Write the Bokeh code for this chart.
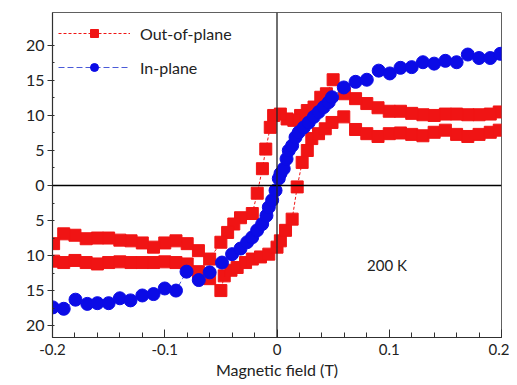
from bokeh.plotting import figure
from bokeh.models import Span, Label, Legend, LegendItem, FixedTicker, Range1d
from bokeh.embed import file_html
from bokeh.resources import INLINE

# ---- data ----
oop_down_x = [0.198, 0.19, 0.18, 0.17, 0.16, 0.15, 0.14, 0.13, 0.12, 0.11, 0.10, 0.09, 0.08, 0.07, 0.06,
              0.05, 0.044, 0.039, 0.033, 0.027, 0.021, 0.015, 0.009, 0.003, -0.003, -0.006, -0.010,
              -0.013, -0.0176, -0.022, -0.0325, -0.0385, -0.044, -0.050, -0.060, -0.070, -0.080,
              -0.090, -0.100, -0.110, -0.120, -0.130, -0.140, -0.150, -0.160, -0.170, -0.180, -0.190, -0.199]
oop_down_y = [10.5, 10.2, 10.1, 10.1, 10.2, 10.2, 10.0, 10.1, 10.3, 10.6, 10.6, 11.1, 11.7, 12.4, 13.1,
              15.1, 13.1, 12.6, 11.2, 10.7, 10.0, 9.3, 9.5, 10.2, 10.0, 8.3, 5.2,
              2.4, -1.1, -4.0, -4.6, -5.5, -6.7, -8.1, -10.5, -9.3, -8.3,
              -7.9, -8.2, -8.8, -8.2, -7.9, -7.8, -7.5, -7.5, -7.6, -7.1, -6.9, -8.3]

oop_up_x = [-0.199, -0.190, -0.180, -0.170, -0.160, -0.150, -0.140, -0.130, -0.120, -0.110, -0.100,
            -0.090, -0.080, -0.070, -0.060, -0.050, -0.047, -0.041, -0.0355, -0.028, -0.022, -0.0147,
            -0.0073, 0.000, 0.003, 0.0076, 0.0135, 0.018, 0.0224, 0.027, 0.031, 0.037, 0.043, 0.049,
            0.0595, 0.070, 0.080, 0.090, 0.100, 0.110, 0.120, 0.130, 0.140, 0.150, 0.160, 0.170, 0.180,
            0.190, 0.198]
oop_up_y = [-10.8, -11.0, -10.7, -11.0, -11.2, -11.0, -10.9, -11.0, -11.0, -11.0, -10.9,
            -11.0, -11.2, -12.3, -13.3, -15.0, -12.9, -12.1, -11.7, -11.0, -10.5, -10.2,
            -9.8, -8.8, -7.9, -6.4, -4.8, -0.2, 3.3, 5.0, 6.7, 7.4, 8.1, 9.0,
            9.8, 8.0, 7.4, 7.0, 7.4, 7.5, 7.3, 7.1, 7.6, 7.9, 7.3, 7.0, 7.3,
            7.6, 7.9]

ip_x = [-0.1997, -0.190, -0.1795, -0.169, -0.160, -0.150, -0.140, -0.1305, -0.120, -0.110, -0.100,
        -0.090, -0.0806, -0.0697, -0.060, -0.049, -0.040, -0.0325, -0.0266, -0.0221, -0.0177, -0.0132,
        -0.0094, -0.0073, -0.0043, -0.0013, 0.0016, 0.0031, 0.006, 0.0085, 0.0105, 0.0135, 0.0165,
        0.0194, 0.0239, 0.0283, 0.0328, 0.0372, 0.0417, 0.0461, 0.049, 0.0595, 0.070, 0.080, 0.0906,
        0.1005, 0.110, 0.120, 0.130, 0.140, 0.150, 0.160, 0.170, 0.180, 0.190, 0.199]
ip_y = [-17.4, -17.6, -16.3, -16.9, -16.8, -16.8, -16.1, -16.4, -15.7, -15.5, -14.7,
        -15.0, -12.3, -13.5, -12.4, -11.0, -9.8, -9.0, -8.1, -7.4, -6.4, -5.5,
        -4.3, -3.1, -2.1, -0.7, 1.0, 1.7, 2.4, 3.8, 5.0, 5.7, 6.9,
        7.6, 8.3, 9.0, 9.8, 10.5, 11.2, 11.9, 12.6, 14.0, 14.8, 15.1, 16.4,
        16.0, 16.8, 16.9, 17.6, 17.4, 17.8, 17.6, 18.7, 18.2, 18.2, 18.8]

x_ticks = [-0.2, -0.1, 0, 0.1, 0.2]
x_tick_labels = ["-0.2", "-0.1", "0", "0.1", "0.2"]
y_ticks = [-20, -15, -10, -5, 0, 5, 10, 15, 20]
y_tick_labels = ["20", "15", "10", "5", "0", "5", "10", "15", "20"]

series_names = ["Out-of-plane", "In-plane"]
x_label = "Magnetic field (T)"
annot_text = "200 K"
annot_x, annot_y = 0.098, -11.4

RED = "#f01414"
BLUE = "#0b0be6"
FONT = "Lato"

p = figure(width=509, height=383, output_backend="svg", toolbar_location=None,
           x_range=Range1d(-0.2, 0.2), y_range=Range1d(-21.7, 24.7),
           min_border_left=52, min_border_right=8, min_border_top=12, min_border_bottom=46)
p.grid.visible = False
p.outline_line_color = "#606060"
p.outline_line_width = 1
p.background_fill_color = "white"
p.border_fill_color = "white"

# axes
p.xaxis.ticker = FixedTicker(ticks=x_ticks,
                             minor_ticks=[round(-0.2 + 0.02 * i, 3) for i in range(21)])
p.xaxis.major_label_overrides = dict(zip(x_ticks, x_tick_labels))
p.yaxis.ticker = FixedTicker(ticks=y_ticks, minor_ticks=[-20 + 2.5 * i for i in range(17)])
p.yaxis.major_label_overrides = dict(zip(y_ticks, y_tick_labels))

for ax in (p.xaxis[0], p.yaxis[0]):
    ax.axis_line_color = "#303030"
    ax.axis_line_width = 1.2
    ax.major_tick_line_color = "#303030"
    ax.minor_tick_line_color = "#303030"
    ax.major_label_text_font = FONT
    ax.major_label_text_color = "#222222"
    ax.axis_label_text_font = FONT
    ax.axis_label_text_font_style = "normal"
    ax.axis_label_text_color = "#222222"

p.xaxis.major_tick_in = 8
p.xaxis.major_tick_out = 0
p.xaxis.minor_tick_in = 5
p.xaxis.minor_tick_out = 0
p.xaxis.major_label_text_font_size = "15px"
p.xaxis.major_label_standoff = 6
p.xaxis.axis_label = x_label
p.xaxis.axis_label_text_font_size = "16px"
p.xaxis.axis_label_standoff = 2

p.yaxis.major_tick_in = 0
p.yaxis.major_tick_out = 5
p.yaxis.minor_tick_in = 2
p.yaxis.minor_tick_out = 0
p.yaxis.major_label_text_font_size = "16px"
p.yaxis.major_label_standoff = 3

# zero lines
p.add_layout(Span(location=0, dimension="width", line_color="black", line_width=1.3))
p.add_layout(Span(location=0, dimension="height", line_color="#222222", line_width=1.3))

# out-of-plane
r_l1 = p.line(oop_down_x, oop_down_y, line_color=RED, line_width=1, line_dash="3 2")
r_l2 = p.line(oop_up_x, oop_up_y, line_color=RED, line_width=1, line_dash="3 2")
r_s1 = p.scatter(oop_down_x, oop_down_y, marker="square", size=12, fill_color=RED, line_color=RED)
r_s2 = p.scatter(oop_up_x, oop_up_y, marker="square", size=12, fill_color=RED, line_color=RED)

# in-plane
b_l = p.line(ip_x, ip_y, line_color="#4a5ad8", line_width=1, line_dash="6 3")
b_s = p.scatter(ip_x, ip_y, marker="circle", size=13, fill_color=BLUE, line_color=BLUE)

legend = Legend(items=[LegendItem(label=series_names[0], renderers=[r_l1, r_s1]),
                       LegendItem(label=series_names[1], renderers=[b_l, b_s])],
                location=(2, 256))
legend.glyph_width = 72
legend.glyph_height = 20
legend.label_height = 20
legend.spacing = 14
legend.label_standoff = 10
legend.label_text_font = FONT
legend.label_text_font_size = "16px"
legend.label_text_color = "#222222"
legend.background_fill_alpha = 0
legend.border_line_alpha = 0
legend.padding = 4
legend.margin = 0
p.add_layout(legend)

p.add_layout(Label(x=annot_x, y=annot_y, text=annot_text, text_font=FONT, text_font_size="15px",
                   text_align="center", text_baseline="middle", text_color="#222222"))

open("out.html", "w").write(file_html(p, INLINE))
